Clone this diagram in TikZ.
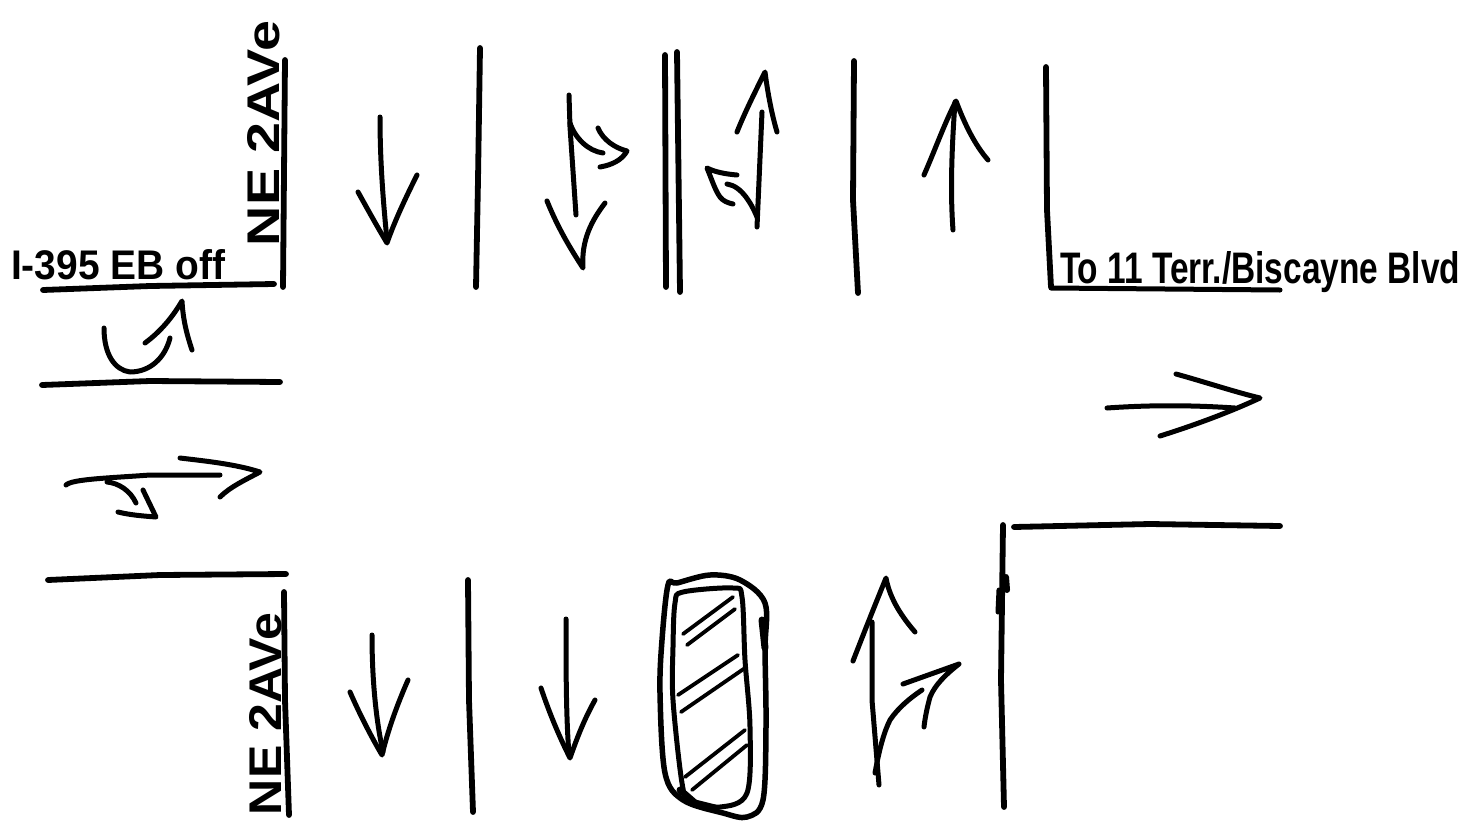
\documentclass[tikz,border=0pt]{standalone}
\usepackage{fontspec}
\setmainfont{Liberation Sans}
\tikzset{
  x=1pt,y=-1pt,
  road/.style={line width=5.8pt,line cap=round,line join=round,black},
  arrowline/.style={line width=5pt,line cap=round,line join=round,black},
  thinroad/.style={line width=5pt,line cap=round,line join=round,black},
  hatch/.style={line width=3.8pt,line cap=round,black},
  hand/.style={inner sep=0pt,outer sep=0pt,font=\bfseries,black}
}
\begin{document}
\begin{tikzpicture}
\useasboundingbox (0,0) rectangle (1478,825);
\fill[white] (0,0) rectangle (1478,825);

% upper lane lines
\draw[road] (285,60) -- (283,287);
\draw[road] (480,48) -- (478,180) -- (476,287);
\draw[road] (665,55) -- (666,287);
\draw[road] (677,52) -- (680,292);
\draw[road] (854,61) -- (853,200) -- (858,293);
\draw[road] (1046,67) -- (1047,210) -- (1051,287);
\draw[thinroad] (1051,288) -- (1280,290);

% lower lane lines
\draw[road] (284,592) -- (285,700) -- (289,815);
\draw[road] (468,580) -- (469,700) -- (473,812);
\draw[road] (1003,525) -- (1001,680) -- (1004,807);
\draw[line width=6pt,line cap=round] (1006,577) -- (1007,590);
\draw[line width=5pt,line cap=round] (999,590) -- (998,612);
\draw[road] (1014,527) -- (1150,524) -- (1280,526);

% left approach
\draw[road] (43,290) -- (150,286) -- (274,284);
\draw[road] (42,385) -- (150,381) -- (280,382);
\draw[road] (48,580) -- (160,575) -- (286,574);

% left turn-around arrow
\draw[arrowline] (104,328) .. controls (104,355) and (115,370) .. (130,372) .. controls (150,372) and (165,358) .. (170,338);
\draw[arrowline] (145,343) .. controls (160,332) and (172,318) .. (182,301) .. controls (183,320) and (187,335) .. (192,350);

% left through + right arrow
\draw[arrowline] (66,485) .. controls (72,479) and (110,478) .. (150,475) -- (220,475);
\draw[arrowline] (180,458) .. controls (205,461) and (235,464) .. (260,472) .. controls (245,480) and (230,487) .. (220,497);
\draw[arrowline] (107,482) .. controls (118,483) and (130,490) .. (136,503);
\draw[arrowline] (143,490) -- (156,517) .. controls (143,516) and (130,515) .. (118,512);

% upper arrows
\draw[arrowline] (380,117) .. controls (380,160) and (383,200) .. (387,240);
\draw[arrowline] (358,192) .. controls (368,210) and (378,228) .. (387,243) .. controls (395,220) and (407,195) .. (417,175);

\draw[arrowline] (569,95) -- (570,127) -- (576,215);
\draw[arrowline] (547,201) .. controls (558,228) and (570,248) .. (583,268) .. controls (581,240) and (592,220) .. (605,203);
\draw[arrowline] (570,123) .. controls (575,138) and (588,151) .. (603,153);
\draw[arrowline] (598,128) .. controls (603,140) and (615,148) .. (627,151) .. controls (622,160) and (612,165) .. (600,167);

\draw[arrowline] (762,112) -- (757,227);
\draw[arrowline] (737,132) .. controls (745,112) and (755,92) .. (765,72) .. controls (768,95) and (772,115) .. (777,132);
\draw[arrowline] (757,217) .. controls (752,205) and (742,186) .. (727,184);
\draw[arrowline] (737,175) .. controls (725,174) and (715,172) .. (707,168) .. controls (712,180) and (715,190) .. (720,197) .. controls (723,201) and (728,203) .. (733,204);

\draw[arrowline] (955,102) .. controls (952,145) and (950,190) .. (953,230);
\draw[arrowline] (924,175) .. controls (935,150) and (945,122) .. (956,101) .. controls (965,125) and (975,145) .. (988,160);

% right arrow
\draw[arrowline] (1107,408) .. controls (1150,405) and (1190,405) .. (1235,408);
\draw[arrowline] (1176,374) .. controls (1205,382) and (1235,392) .. (1260,398) .. controls (1230,412) and (1195,425) .. (1160,436);

% lower arrows
\draw[arrowline] (372,635) .. controls (372,680) and (376,720) .. (383,752);
\draw[arrowline] (350,692) .. controls (360,715) and (372,738) .. (382,755) .. controls (388,730) and (397,705) .. (408,680);

\draw[arrowline] (566,619) .. controls (566,670) and (566,715) .. (569,755);
\draw[arrowline] (541,688) .. controls (550,715) and (560,738) .. (570,758) .. controls (578,735) and (585,718) .. (595,700);

\draw[arrowline] (872,622) -- (872,700) -- (879,785);
\draw[arrowline] (853,661) .. controls (865,630) and (877,600) .. (886,578) .. controls (890,600) and (903,618) .. (915,632);
\draw[arrowline] (875,773) .. controls (880,745) and (885,730) .. (890,720) .. controls (898,708) and (910,698) .. (922,690);
\draw[arrowline] (903,684) -- (959,664) .. controls (945,675) and (935,685) .. (930,697) .. controls (927,708) and (925,718) .. (924,727);

% hatched median
\draw[line width=5.5pt,line join=round,line cap=round] plot[smooth cycle,tension=0.55] coordinates {(668,585) (662,640) (660,693) (665,773) (683,800) (723,813) (747,817) (763,800) (766,727) (765,650) (765,603) (740,580) (710,575) (677,583)};
\draw[line width=5pt,line join=round,line cap=round] plot[smooth cycle,tension=0.55] coordinates {(675,603) (673,647) (673,700) (682,783) (690,800) (720,807) (747,793) (750,727) (745,660) (742,597) (733,588) (683,592)};
\draw[line width=7pt,line cap=round] (762,620) -- (765,648);
\draw[line width=7pt,line cap=round] (680,790) -- (695,803) -- (715,808);
\draw[hatch] (683,634) -- (733,597);
\draw[hatch] (687,645) -- (735,609);
\draw[hatch] (678,695) -- (738,655);
\draw[hatch] (681,712) -- (745,668);
\draw[hatch] (685,777) -- (745,730);
\draw[hatch] (692,790) -- (747,745);

% labels
\node[hand,anchor=west] (ramp) at (11,265) {\resizebox{214pt}{30pt}{I-395 EB off}};
\node[hand,rotate=90,anchor=west] (aveup) at (264,246) {\resizebox{225pt}{32pt}{NE 2AVe}};
\node[hand,rotate=90,anchor=west] (avedown) at (266,815) {\resizebox{202pt}{32pt}{NE 2AVe}};
\node[hand,anchor=west] (east) at (1060,272) {\resizebox{400pt}{32pt}{To 11 Terr./Biscayne Blvd}};
\end{tikzpicture}
\end{document}
